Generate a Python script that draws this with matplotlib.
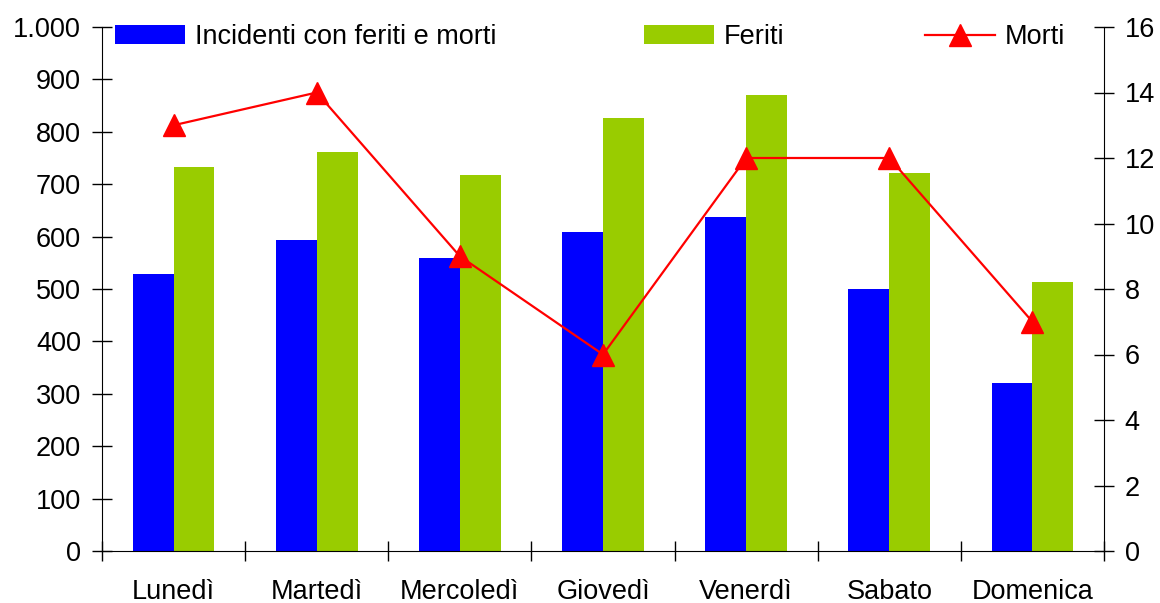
import numpy as np
import matplotlib.pyplot as plt
from matplotlib.ticker import FuncFormatter, MultipleLocator, FixedLocator

plt.rcParams['font.family'] = ['Liberation Sans', 'DejaVu Sans']

giorni = ['Lunedì', 'Martedì', 'Mercoledì', 'Giovedì', 'Venerdì', 'Sabato', 'Domenica']
incidenti = [529, 594, 559, 609, 637, 500, 321]
feriti = [733, 761, 717, 826, 870, 721, 513]
morti = [13, 14, 9, 6, 12, 12, 7]

blu = '#0000FF'
verde = '#99CC00'
rosso = '#FF0000'

fig = plt.figure(figsize=(11.6, 6.03), dpi=100)
ax = fig.add_axes([102 / 1160, 52 / 603, 1002 / 1160, 524 / 603])
ax2 = ax.twinx()

x = np.arange(len(giorni))
w = 0.285
b1 = ax.bar(x - w / 2, incidenti, w, color=blu, label='Incidenti con feriti e morti')
b2 = ax.bar(x + w / 2, feriti, w, color=verde, label='Feriti')
l1, = ax2.plot(x, morti, color=rosso, lw=1.6, marker='^', ms=16, label='Morti')

ax.set_xlim(-0.5, 6.5)
ax.set_ylim(0, 1000)
ax2.set_ylim(0, 16)
ax.yaxis.set_major_locator(MultipleLocator(100))
ax.yaxis.set_major_formatter(FuncFormatter(lambda v, p: f'{int(v):,}'.replace(',', '.')))
ax2.yaxis.set_major_locator(MultipleLocator(2))

# tick di categoria sui bordi, etichette al centro
ax.xaxis.set_major_locator(FixedLocator(np.arange(-0.5, 7, 1)))
ax.xaxis.set_minor_locator(FixedLocator(x))
ax.set_xticklabels([''] * 8)
ax.set_xticklabels(giorni, minor=True)
ax.tick_params(axis='x', which='major', direction='inout', length=14, width=1)
ax.tick_params(axis='x', which='minor', length=0, pad=20, labelsize=19.5)
ax.tick_params(axis='y', direction='inout', length=14, width=1, pad=8, labelsize=19.5)
ax2.tick_params(axis='y', direction='inout', length=14, width=1, pad=8, labelsize=19.5)

for a in (ax, ax2):
    a.spines['top'].set_visible(False)
ax.spines['right'].set_visible(False)
ax2.spines['left'].set_visible(False)
ax2.spines['bottom'].set_visible(False)
ax.set_zorder(1)
ax2.set_zorder(2)
ax2.patch.set_visible(False)

kw = dict(frameon=False, fontsize=19.5, borderpad=0, borderaxespad=0,
          handletextpad=0.35, handlelength=2.6, handleheight=0.7, loc='upper left')
leg1 = ax2.legend([b1], ['Incidenti con feriti e morti'], bbox_to_anchor=(0.013, 1.005), **kw)
ax2.add_artist(leg1)
leg2 = ax2.legend([b2], ['Feriti'], bbox_to_anchor=(0.541, 1.005), **kw)
ax2.add_artist(leg2)
ax2.legend([l1], ['Morti'], bbox_to_anchor=(0.821, 1.005), **kw)

fig.savefig('out.png', dpi=100, facecolor='white')
